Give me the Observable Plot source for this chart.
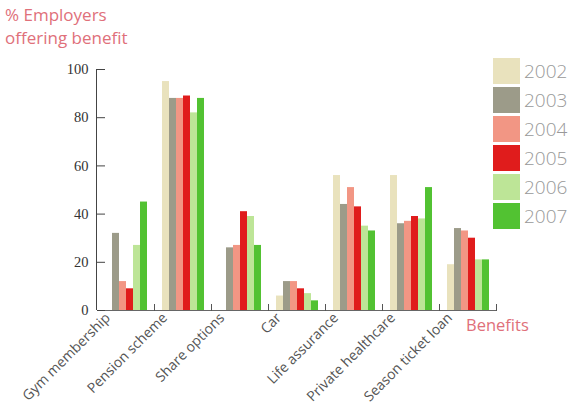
<!DOCTYPE html>
<html><head><meta charset="utf-8">
<script src="https://cdn.jsdelivr.net/npm/d3@7"></script>
<script src="https://cdn.jsdelivr.net/npm/@observablehq/plot@0.6"></script>
<style>
body{margin:0;background:#fff;}
#wrap{position:relative;width:573px;height:413px;overflow:hidden;font-family:"Open Sans",sans-serif;}
#title{position:absolute;left:5px;top:3px;color:#e0707a;font-size:17px;line-height:23px;}
#xlab{position:absolute;left:466px;top:313px;color:#e0707a;font-size:16.5px;}
#legend{position:absolute;left:493px;top:56px;}
.row{display:flex;align-items:center;height:29px;}
.sw{width:27px;height:26px;margin-right:4px;}
.lt{color:#999;font-size:19px;font-weight:300;}
#chart{position:absolute;left:0;top:0;}
</style></head>
<body><div id="wrap"><div id="chart"></div>
<div id="title">% Employers<br>offering benefit</div>
<div id="xlab">Benefits</div>
<div id="legend"></div></div>
<script>
const categories = ["Gym membership","Pension scheme","Share options","Car","Life assurance","Private healthcare","Season ticket loan"];
const years = ["2002","2003","2004","2005","2006","2007"];
const colors = ["#e9e2bd","#9c9b89","#f29684","#e01c1c","#bde597","#52c232"];
const v2002 = [0, 95, 0, 6, 56, 56, 19];
const v2003 = [32, 88, 26, 12, 44, 36, 34];
const v2004 = [12, 88, 27, 12, 51, 37, 33];
const v2005 = [9, 89, 41, 9, 43, 39, 30];
const v2006 = [27, 82, 39, 7, 35, 38, 21];
const v2007 = [45, 88, 27, 4, 33, 51, 21];
const yTicks = [0,20,40,60,80,100];

const series = [v2002,v2003,v2004,v2005,v2006,v2007];
const data = [];
categories.forEach((c,i)=>years.forEach((y,j)=>data.push({cat:c,year:y,value:series[j][i]})));

const mL = 96;
const chart = Plot.plot({
  width:573, height:413,
  marginLeft:mL, marginRight:76, marginTop:69, marginBottom:103,
  style:{background:"transparent"},
  fx:{domain:categories, padding:0, label:null},
  x:{domain:years, paddingInner:0, paddingOuter:0.65, axis:null},
  y:{domain:[0,100], label:null},
  color:{domain:years, range:colors},
  marks:[
    Plot.barY(data,{fx:"cat",x:"year",y:"value",fill:"year"}),
    Plot.ruleY([0],{stroke:"#666",strokeWidth:1}),
    Plot.frame({anchor:"right",stroke:"#555",insetTop:235}),
    Plot.ruleY(yTicks,{y:d=>d,fx:()=>categories[0],insetRight:49,stroke:"#444"}),
    Plot.axisY({ticks:yTicks,tickSize:0,tickPadding:9,color:"#333",fontSize:14.5,fontFamily:"Liberation Serif",label:null}),
    Plot.axisFx({anchor:"bottom",tickRotate:-45,tickSize:0,tickPadding:5,dx:-18,fontSize:14,fontFamily:"Open Sans",color:"#555",label:null})
  ]
});
document.getElementById("chart").appendChild(chart);
try {
  const yr = chart.scale("y").range;
  d3.select(chart).append("line")
    .attr("x1", mL + 0.5).attr("x2", mL + 0.5)
    .attr("y1", yr[0]).attr("y2", yr[1])
    .attr("stroke", "#444").attr("stroke-width", 1);
} catch (e) {}
const lg = document.getElementById("legend");
years.forEach((y,i)=>{
  const r=document.createElement("div");r.className="row";
  r.innerHTML=`<div class="sw" style="background:${colors[i]}"></div><span class="lt">${y}</span>`;
  lg.appendChild(r);
});
</script></body></html>
